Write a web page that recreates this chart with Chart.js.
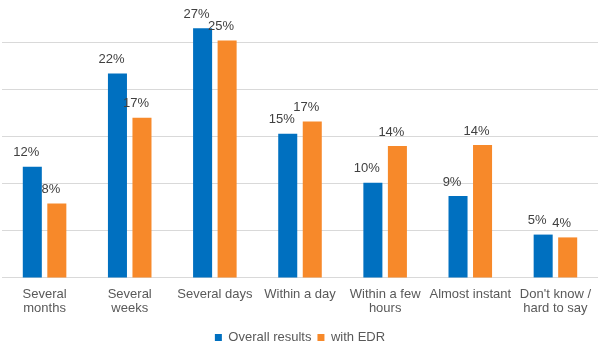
<!DOCTYPE html>
<html>
<head>
<meta charset="utf-8">
<script src="https://cdn.jsdelivr.net/npm/chart.js@4"></script>
<style>
  body { margin: 0; background: #fff; }
  #wrap { width: 604px; height: 347px; position: relative; }
</style>
</head>
<body>
<div id="wrap"><canvas id="responseChart"></canvas></div>
<script>
// Time to respond chart

const categories = [
    ['Several', 'months'],
    ['Several', 'weeks'],
    'Several days',
    'Within a day',
    ['Within a few', 'hours'],
    'Almost instant',
    ["Don't know /", 'hard to say']
];
const overallResults = [11.8, 21.7, 26.5, 15.3, 10.1, 8.7, 4.6];
const withEdr = [7.9, 17.0, 25.2, 16.6, 14.0, 14.1, 4.3];
const seriesNames = ['Overall results', 'with EDR'];
const gridSteps = [0, 5, 10, 15, 20, 25];

// draws the % labels above each bar
const valueLabels = {
    id: 'valueLabels',
    afterDatasetsDraw(chart) {
        const ctx = chart.ctx;
        ctx.save();
        ctx.font = '13px "Liberation Sans", Arial, sans-serif';
        ctx.fillStyle = '#404040';
        ctx.textAlign = 'center';
        ctx.textBaseline = 'middle';
        chart.data.datasets.forEach((ds, i) => {
            chart.getDatasetMeta(i).data.forEach((bar, j) => {
                ctx.fillText(Math.round(ds.data[j]) + '%', bar.x - 6, bar.y - 14);
            });
        });
        ctx.restore();
    }
};

// pulls the legend a bit closer to the bottom edge
const legendNudge = {
    id: 'legendNudge',
    beforeLayout(chart) {
        const legend = chart.legend;
        if (!legend || legend._nudged) return;
        const fit = legend.fit;
        legend.fit = function() {
            fit.call(this);
            this.height -= 7;
        };
        legend._nudged = true;
    }
};

document.addEventListener('DOMContentLoaded', function() {
    const ctx = document.getElementById('responseChart');

    new Chart(ctx, {
        type: 'bar',
        data: {
            labels: categories,
            datasets: [{
                label: seriesNames[0],
                data: overallResults,
                backgroundColor: '#0070C0'
            }, {
                label: seriesNames[1],
                data: withEdr,
                backgroundColor: '#F7892A'
            }]
        },
        plugins: [valueLabels, legendNudge],
        options: {
            responsive: true,
            maintainAspectRatio: false,
            animation: false,
            categoryPercentage: 0.576,
            barPercentage: 0.776,
            layout: {
                padding: { left: 2, right: 6, top: 0, bottom: 0 }
            },
            plugins: {
                legend: {
                    position: 'bottom',
                    labels: {
                        boxWidth: 7,
                        boxHeight: 7,
                        padding: 6,
                        color: '#595959',
                        font: { family: '"Liberation Sans", Arial, sans-serif', size: 13 }
                    }
                },
                tooltip: { enabled: false }
            },
            scales: {
                x: {
                    grid: { display: false },
                    border: { display: false },
                    afterFit: function(scale) {
                        scale.height += 9;
                    },
                    ticks: {
                        color: '#595959',
                        padding: 1,
                        maxRotation: 0,
                        autoSkip: false,
                        font: { family: '"Liberation Sans", Arial, sans-serif', size: 13, lineHeight: 1.08 }
                    }
                },
                y: {
                    min: 0,
                    max: 29.5,
                    afterBuildTicks: function(axis) {
                        axis.ticks = gridSteps.map(v => ({ value: v }));
                    },
                    ticks: { display: false },
                    border: { display: false },
                    grid: {
                        color: '#d9d9d9',
                        drawTicks: false
                    }
                }
            }
        }
    });
});
</script>
</body>
</html>
